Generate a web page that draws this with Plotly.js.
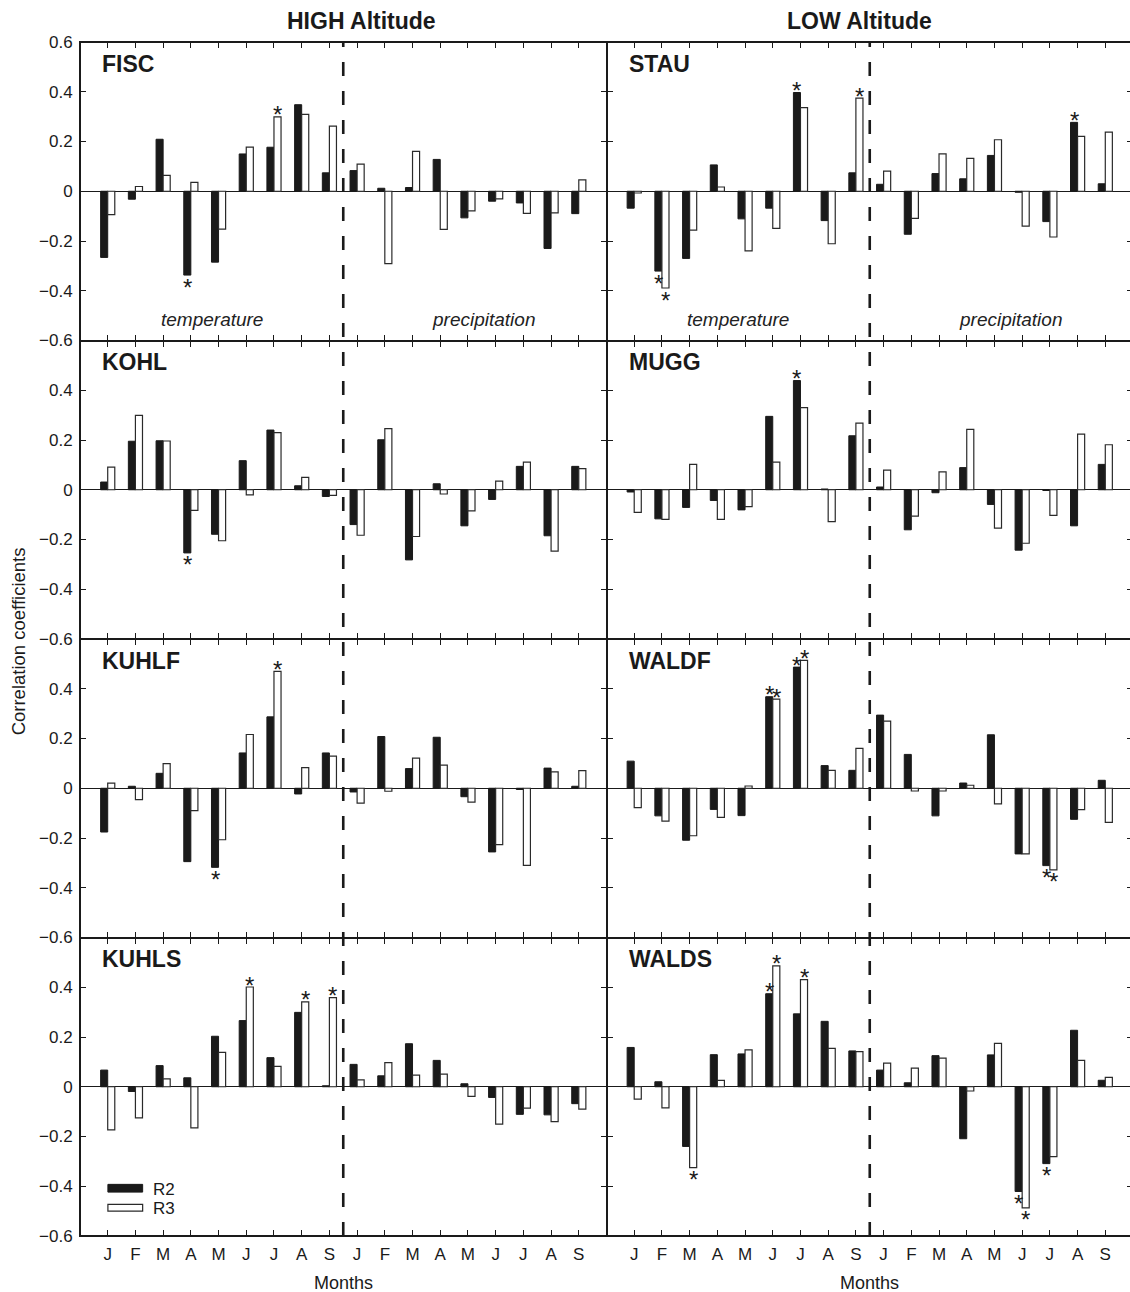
<!DOCTYPE html>
<html>
<head>
<meta charset="utf-8">
<script src="https://cdn.plot.ly/plotly-3.0.1.min.js"></script>
<style>
  html, body { margin: 0; padding: 0; overflow: hidden; background: #fff; }
  #chart { width: 1136px; height: 1292px; }
</style>
</head>
<body>
<div id="chart"></div>
<script>
// Month labels: nine temperature months followed by nine precipitation months
const months = ['J','F','M','A','M','J','J','A','S','J','F','M','A','M','J','J','A','S'];

// Y tick values / labels
const yTickValsTop = [0.6, 0.4, 0.2, 0, -0.2, -0.4, -0.6];
const yTickTextTop = ['0.6', '0.4', '0.2', '0', '\u22120.2', '\u22120.4', '\u22120.6'];
const yTickVals = [0.4, 0.2, 0, -0.2, -0.4, -0.6];
const yTickText = ['0.4', '0.2', '0', '\u22120.2', '\u22120.4', '\u22120.6'];

// Correlation coefficients per site (R2 and R3 chronologies)
// HIGH altitude sites
const FISC_R2  = [-0.266, -0.032, 0.209, -0.337, -0.285, 0.150, 0.177, 0.348, 0.074,  0.083, 0.012, 0.015, 0.128, -0.107, -0.040, -0.047, -0.230, -0.090];
const FISC_R3  = [-0.094, 0.019, 0.064, 0.036, -0.152, 0.177, 0.299, 0.309, 0.262,  0.109, -0.291, 0.160, -0.153, -0.079, -0.031, -0.089, -0.087, 0.046];
const KOHL_R2  = [0.031, 0.195, 0.197, -0.254, -0.179, 0.117, 0.240, 0.016, -0.027,  -0.140, 0.201, -0.282, 0.024, -0.145, -0.039, 0.094, -0.185, 0.094];
const KOHL_R3  = [0.091, 0.299, 0.196, -0.083, -0.205, -0.021, 0.230, 0.050, -0.023,  -0.183, 0.246, -0.188, -0.017, -0.085, 0.035, 0.111, -0.247, 0.085];
const KUHLF_R2 = [-0.176, 0.008, 0.060, -0.295, -0.318, 0.142, 0.287, -0.023, 0.142,  -0.015, 0.208, 0.079, 0.205, -0.034, -0.256, -0.005, 0.081, 0.008];
const KUHLF_R3 = [0.021, -0.046, 0.099, -0.090, -0.207, 0.216, 0.470, 0.083, 0.129,  -0.060, -0.012, 0.121, 0.093, -0.056, -0.227, -0.310, 0.066, 0.071];
const KUHLS_R2 = [0.067, -0.019, 0.085, 0.036, 0.203, 0.266, 0.117, 0.299, 0.004,  0.090, 0.044, 0.173, 0.106, 0.012, -0.043, -0.111, -0.113, -0.068];
const KUHLS_R3 = [-0.173, -0.125, 0.032, -0.165, 0.138, 0.401, 0.082, 0.341, 0.358,  0.028, 0.097, 0.047, 0.051, -0.039, -0.150, -0.086, -0.140, -0.090];
// LOW altitude sites
const STAU_R2  = [-0.068, -0.321, -0.270, 0.106, -0.111, -0.068, 0.397, -0.118, 0.074,  0.028, -0.173, 0.071, 0.050, 0.144, -0.004, -0.122, 0.277, 0.030];
const STAU_R3  = [-0.007, -0.389, -0.156, 0.017, -0.240, -0.149, 0.336, -0.211, 0.374,  0.081, -0.109, 0.150, 0.132, 0.207, -0.140, -0.184, 0.221, 0.238];
const MUGG_R2  = [-0.009, -0.117, -0.071, -0.043, -0.081, 0.295, 0.439, 0.003, 0.217,  0.011, -0.161, -0.012, 0.089, -0.059, -0.243, -0.003, -0.145, 0.102];
const MUGG_R3  = [-0.091, -0.119, 0.102, -0.119, -0.068, 0.111, 0.330, -0.128, 0.268,  0.079, -0.106, 0.072, 0.243, -0.154, -0.215, -0.103, 0.224, 0.181];
const WALDF_R2 = [0.109, -0.111, -0.209, -0.085, -0.110, 0.368, 0.487, 0.091, 0.072,  0.294, 0.136, -0.111, 0.021, 0.215, -0.264, -0.311, -0.125, 0.032];
const WALDF_R3 = [-0.078, -0.132, -0.191, -0.117, 0.009, 0.358, 0.514, 0.072, 0.160,  0.270, -0.011, -0.011, 0.012, -0.063, -0.264, -0.328, -0.086, -0.137];
const WALDS_R2 = [0.158, 0.020, -0.240, 0.129, 0.132, 0.374, 0.293, 0.263, 0.144,  0.067, 0.016, 0.125, -0.209, 0.128, -0.421, -0.309, 0.227, 0.026];
const WALDS_R3 = [-0.050, -0.085, -0.325, 0.026, 0.148, 0.486, 0.431, 0.154, 0.141,  0.095, 0.075, 0.115, -0.017, 0.174, -0.487, -0.281, 0.106, 0.038];

// Significant correlations (month indices) marked with an asterisk
const FISC_sig2  = [3];        const FISC_sig3  = [6];
const KOHL_sig2  = [3];        const KOHL_sig3  = [];
const KUHLF_sig2 = [4];        const KUHLF_sig3 = [6];
const KUHLS_sig2 = [];         const KUHLS_sig3 = [5, 7, 8];
const STAU_sig2  = [1, 6, 16]; const STAU_sig3  = [1, 8];
const MUGG_sig2  = [6];        const MUGG_sig3  = [];
const WALDF_sig2 = [5, 6, 15]; const WALDF_sig3 = [5, 6, 15];
const WALDS_sig2 = [5, 14, 15]; const WALDS_sig3 = [2, 5, 6, 14];

// Panels in reading order (row by row, HIGH on the left, LOW on the right)
const panels = [
  { name: 'FISC',  r2: FISC_R2,  r3: FISC_R3,  s2: FISC_sig2,  s3: FISC_sig3 },
  { name: 'STAU',  r2: STAU_R2,  r3: STAU_R3,  s2: STAU_sig2,  s3: STAU_sig3 },
  { name: 'KOHL',  r2: KOHL_R2,  r3: KOHL_R3,  s2: KOHL_sig2,  s3: KOHL_sig3 },
  { name: 'MUGG',  r2: MUGG_R2,  r3: MUGG_R3,  s2: MUGG_sig2,  s3: MUGG_sig3 },
  { name: 'KUHLF', r2: KUHLF_R2, r3: KUHLF_R3, s2: KUHLF_sig2, s3: KUHLF_sig3 },
  { name: 'WALDF', r2: WALDF_R2, r3: WALDF_R3, s2: WALDF_sig2, s3: WALDF_sig3 },
  { name: 'KUHLS', r2: KUHLS_R2, r3: KUHLS_R3, s2: KUHLS_sig2, s3: KUHLS_sig3 },
  { name: 'WALDS', r2: WALDS_R2, r3: WALDS_R3, s2: WALDS_sig2, s3: WALDS_sig3 }
];

const FONT = '"Liberation Sans", Arial, Helvetica, sans-serif';
const INK = '#1a1a1a';
const BAR_GAP = 0.49;
const SPLIT = 9.5;            // boundary between temperature and precipitation months
const xPos = months.map((_, i) => i + 1);

const traces = [];
const annotations = [];
const layout = {
  width: 1136, height: 1292,
  margin: { l: 80, r: 3, t: 42, b: 56 },
  paper_bgcolor: '#fff', plot_bgcolor: '#fff',
  showlegend: false,
  barmode: 'group', bargap: BAR_GAP, bargroupgap: 0,
  font: { family: FONT, color: INK, size: 17 },
  shapes: []
};

panels.forEach((p, idx) => {
  const k = idx + 1;
  const row = Math.floor(idx / 2);
  const col = idx % 2;
  const xid = k === 1 ? 'x' : 'x' + k;
  const yid = k === 1 ? 'y' : 'y' + k;
  const xkey = k === 1 ? 'xaxis' : 'xaxis' + k;
  const ykey = k === 1 ? 'yaxis' : 'yaxis' + k;

  layout[xkey] = {
    domain: [col * 0.5, col * 0.5 + 0.5],
    anchor: yid,
    range: [0, 19],
    tickmode: 'array', tickvals: xPos, ticktext: months,
    showticklabels: row === 3,
    ticks: 'inside', ticklen: 6, tickwidth: 1, tickcolor: INK,
    showline: true, linewidth: 1, linecolor: INK, mirror: 'ticks',
    showgrid: false, zeroline: false,
    tickfont: { size: 17, family: FONT, color: INK },
    ticklabelstandoff: 3
  };
  layout[ykey] = {
    domain: [1 - (row + 1) * 0.25, 1 - row * 0.25],
    anchor: xid,
    range: [-0.6, 0.6],
    tickmode: 'array',
    tickvals: row === 0 ? yTickValsTop : yTickVals,
    ticktext: row === 0 ? yTickTextTop : yTickText,
    showticklabels: col === 0,
    ticks: 'inside', ticklen: 6, tickwidth: 1, tickcolor: INK,
    showline: true, linewidth: 1, linecolor: INK, mirror: 'ticks',
    showgrid: false,
    zeroline: true, zerolinecolor: INK, zerolinewidth: 1.2,
    tickfont: { size: 17, family: FONT, color: INK },
    ticklabelstandoff: 3
  };

  traces.push({
    type: 'bar', name: 'R2', x: xPos, y: p.r2, xaxis: xid, yaxis: yid,
    marker: { color: INK, line: { color: INK, width: 1 } }
  });
  traces.push({
    type: 'bar', name: 'R3', x: xPos, y: p.r3, xaxis: xid, yaxis: yid,
    marker: { color: '#ffffff', line: { color: '#2a2a2a', width: 1.2 } }
  });

  // asterisks on significant bars
  const half = (1 - BAR_GAP) / 4;
  [[p.s2, p.r2, -half], [p.s3, p.r3, half]].forEach(([sig, vals, off]) => {
    sig.forEach(i => {
      const v = vals[i];
      annotations.push({
        xref: xid, yref: yid, x: xPos[i] + off, y: v,
        text: '*', showarrow: false,
        font: { size: 24, family: FONT, color: INK },
        xanchor: 'center', yanchor: 'middle',
        yshift: v >= 0 ? 2 : -12
      });
    });
  });

  // site label
  annotations.push({
    xref: xid + ' domain', yref: yid + ' domain', x: 0.038, y: 0.927,
    xanchor: 'left', yanchor: 'middle', showarrow: false,
    text: '<b>' + p.name + '</b>',
    font: { size: 23, family: FONT, color: INK }
  });

  if (row === 0) {
    annotations.push({
      xref: xid + ' domain', yref: yid + ' domain', x: 0.25, y: 0.072,
      xanchor: 'center', yanchor: 'middle', showarrow: false,
      text: '<i>temperature</i>', font: { size: 19, family: FONT, color: '#222' }
    });
    annotations.push({
      xref: xid + ' domain', yref: yid + ' domain', x: 0.767, y: 0.072,
      xanchor: 'center', yanchor: 'middle', showarrow: false,
      text: '<i>precipitation</i>', font: { size: 19, family: FONT, color: '#222' }
    });
  }
});

// outer frame around the whole grid
layout.shapes.push({
  type: 'rect', xref: 'paper', yref: 'paper', x0: 0, x1: 1, y0: 0, y1: 1,
  line: { color: INK, width: 2 }, fillcolor: 'rgba(0,0,0,0)'
});

// dashed separators between temperature and precipitation, one per column
['x', 'x2'].forEach(xr => {
  layout.shapes.push({
    type: 'line', xref: xr, yref: 'paper', x0: SPLIT, x1: SPLIT, y0: 0, y1: 1,
    line: { color: INK, width: 2.6, dash: '14px,15px' }
  });
});

// legend (inside the KUHLS panel)
layout.shapes.push({
  type: 'rect', xref: 'x7 domain', yref: 'y7 domain',
  x0: 0.053, x1: 0.119, y0: 0.147, y1: 0.173,
  fillcolor: INK, line: { color: INK, width: 1 }
});
layout.shapes.push({
  type: 'rect', xref: 'x7 domain', yref: 'y7 domain',
  x0: 0.053, x1: 0.119, y0: 0.083, y1: 0.106,
  fillcolor: '#ffffff', line: { color: '#2a2a2a', width: 1.2 }
});
annotations.push({
  xref: 'x7 domain', yref: 'y7 domain', x: 0.134, y: 0.157,
  xanchor: 'left', yanchor: 'middle', showarrow: false,
  text: 'R2', font: { size: 17, family: FONT, color: INK }
});
annotations.push({
  xref: 'x7 domain', yref: 'y7 domain', x: 0.134, y: 0.093,
  xanchor: 'left', yanchor: 'middle', showarrow: false,
  text: 'R3', font: { size: 17, family: FONT, color: INK }
});

// column headings
annotations.push({
  xref: 'paper', yref: 'paper', x: 0.2675, y: 1.0176,
  xanchor: 'center', yanchor: 'middle', showarrow: false,
  text: '<b>HIGH Altitude</b>', font: { size: 23, family: FONT, color: INK }
});
annotations.push({
  xref: 'paper', yref: 'paper', x: 0.7407, y: 1.0176,
  xanchor: 'center', yanchor: 'middle', showarrow: false,
  text: '<b>LOW Altitude</b>', font: { size: 23, family: FONT, color: INK }
});

// axis titles
annotations.push({
  xref: 'paper', yref: 'paper', x: -0.0589, y: 0.498,
  xanchor: 'center', yanchor: 'middle', showarrow: false, textangle: -90,
  text: 'Correlation coefficients', font: { size: 18.5, family: FONT, color: INK }
});
annotations.push({
  xref: 'paper', yref: 'paper', x: 0.25, y: -0.0394,
  xanchor: 'center', yanchor: 'middle', showarrow: false,
  text: 'Months', font: { size: 18, family: FONT, color: INK }
});
annotations.push({
  xref: 'paper', yref: 'paper', x: 0.75, y: -0.0394,
  xanchor: 'center', yanchor: 'middle', showarrow: false,
  text: 'Months', font: { size: 18, family: FONT, color: INK }
});

layout.annotations = annotations;

Plotly.newPlot('chart', traces, layout, { staticPlot: true, displayModeBar: false });
</script>
</body>
</html>
